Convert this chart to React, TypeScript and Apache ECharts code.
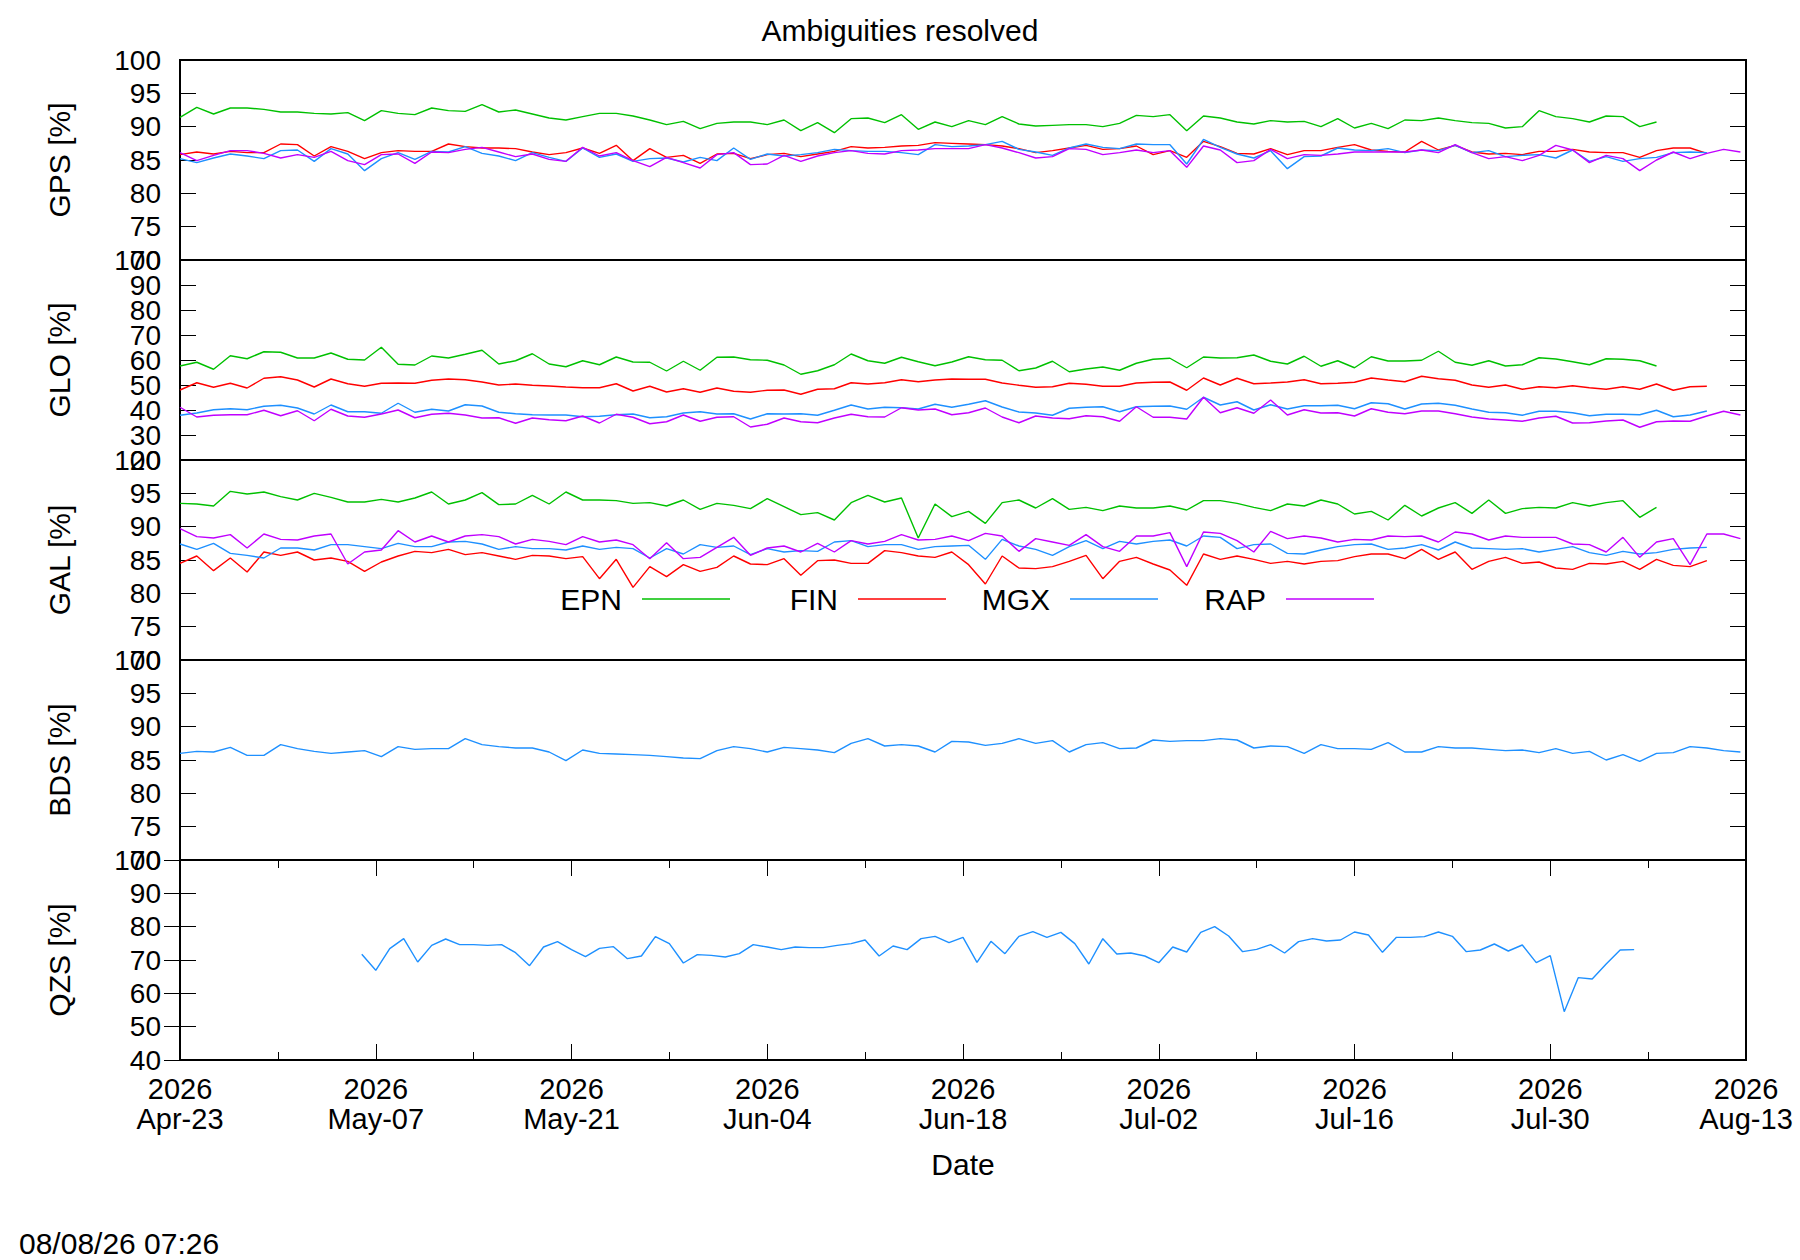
import React, { useEffect, useRef } from "react";
import * as echarts from "echarts";

// ---------- axis / sampling ----------
const START_UTC = Date.UTC(2026, 3, 23); // 2026 Apr-23
const X_MAX_DAYS = 112; // 2026 Aug-13
const X_TICK_DAYS = 14;
const SAMPLE_STEP_DAYS = 1.2; // spacing of the solution points (EPN/FIN/MGX/RAP)
const QZS_FIRST_DAY = 13; // QZS starts 2026 May-06, daily
const MONTHS = ["Jan", "Feb", "Mar", "Apr", "May", "Jun", "Jul", "Aug", "Sep", "Oct", "Nov", "Dec"];

const TITLE = "Ambiguities resolved";
const X_NAME = "Date";
const TIMESTAMP = "08/08/26 07:26";
const SERIES_NAMES = ["EPN", "FIN", "MGX", "RAP"];
const SERIES_COLORS = ["#00c000", "#ff0000", "#1e90ff", "#c000ff"];

// ---------- GPS ----------
const GPS_EPN = [
  91.4, 92.9, 91.9, 92.8, 92.8, 92.6, 92.2, 92.2, 92.0, 91.9,
  92.1, 90.9, 92.4, 92.0, 91.8, 92.8, 92.4, 92.3, 93.3, 92.2,
  92.5, 91.9, 91.3, 91.0, 91.5, 92.0, 92.0, 91.6, 91.0, 90.3,
  90.8, 89.7, 90.5, 90.7, 90.7, 90.3, 91.0, 89.4, 90.6, 89.1,
  91.2, 91.3, 90.6, 91.8, 89.6, 90.7, 90.0, 90.9, 90.3, 91.5,
  90.4, 90.1, 90.2, 90.3, 90.3, 90.0, 90.5, 91.7, 91.5, 91.8,
  89.4, 91.6, 91.3, 90.7, 90.4, 90.9, 90.7, 90.8, 90.0, 91.2,
  89.8, 90.5, 89.7, 91.0, 90.9, 91.3, 90.9, 90.6, 90.5, 89.8,
  90.0, 92.4, 91.5, 91.2, 90.7, 91.6, 91.5, 90.0, 90.7,
];
const GPS_FIN = [
  85.8, 86.2, 85.9, 86.3, 86.1, 86.1, 87.4, 87.3, 85.6, 87.0,
  86.3, 85.2, 86.1, 86.4, 86.3, 86.3, 87.4, 87.0, 86.8, 86.8,
  86.7, 86.2, 85.8, 86.1, 86.8, 86.0, 87.2, 84.9, 86.7, 85.4,
  85.7, 84.5, 85.9, 86.0, 85.2, 85.8, 86.0, 85.5, 85.9, 86.3,
  87.0, 86.8, 86.9, 87.1, 87.2, 87.6, 87.5, 87.4, 87.3, 87.1,
  86.7, 86.1, 86.4, 86.8, 87.2, 86.6, 86.7, 87.1, 85.8, 86.4,
  85.4, 87.8, 87.0, 86.0, 85.9, 86.7, 85.8, 86.4, 86.4, 86.9,
  87.3, 86.5, 86.3, 86.2, 87.8, 86.5, 87.2, 86.2, 85.9, 86.0,
  85.8, 86.3, 86.3, 86.6, 86.2, 86.1, 86.1, 85.4, 86.4, 86.8,
  86.8, 86.0,
];
const GPS_MGX = [
  85.2, 84.6, 85.3, 85.9, 85.6, 85.2, 86.4, 86.5, 84.8, 86.7,
  85.9, 83.4, 85.2, 86.1, 85.1, 86.3, 86.2, 87.0, 86.0, 85.6,
  84.9, 86.1, 85.4, 84.8, 86.8, 85.4, 85.9, 84.8, 85.2, 85.3,
  84.7, 85.4, 84.9, 86.8, 85.1, 85.9, 85.6, 85.8, 86.1, 86.6,
  86.4, 86.3, 86.3, 86.1, 85.8, 87.3, 87.0, 87.1, 87.3, 87.8,
  86.6, 86.2, 85.7, 86.8, 87.4, 86.9, 86.7, 87.4, 87.3, 87.3,
  84.4, 88.1, 86.9, 85.9, 85.3, 86.4, 83.7, 85.5, 85.6, 86.8,
  86.5, 86.4, 86.7, 86.1, 86.5, 86.4, 87.2, 86.1, 86.4, 85.5,
  85.7, 85.8, 85.3, 86.5, 84.8, 85.5, 84.8, 85.2, 85.4, 86.1,
  86.2, 86.1,
];
const GPS_RAP = [
  86.1, 84.9, 85.7, 86.4, 86.4, 86.0, 85.3, 85.8, 85.4, 86.3,
  84.9, 84.3, 85.8, 85.9, 84.5, 86.2, 86.1, 86.6, 86.9, 86.2,
  85.5, 85.9, 85.1, 84.8, 86.9, 85.6, 86.1, 84.9, 84.0, 85.4,
  84.6, 83.8, 85.8, 86.1, 84.3, 84.4, 85.7, 84.8, 85.6, 86.1,
  86.4, 86.0, 85.9, 86.4, 86.5, 86.7, 86.7, 86.7, 87.3, 86.8,
  86.1, 85.3, 85.5, 86.7, 86.6, 85.8, 86.1, 86.5, 86.1, 86.4,
  83.9, 87.1, 86.5, 84.6, 84.9, 86.6, 85.2, 85.8, 85.7, 85.9,
  86.2, 86.2, 86.2, 86.2, 86.5, 86.1, 87.3, 86.1, 85.2, 85.5,
  84.9, 85.7, 87.2, 86.5, 84.6, 85.7, 85.2, 83.4, 85.0, 86.2,
  85.2, 86.0, 86.6, 86.2,
];

// ---------- GLO ----------
const GLO_EPN = [
  57.6, 59.1, 56.3, 61.7, 60.5, 63.3, 63.1, 60.8, 60.8, 62.8,
  60.3, 60.0, 65.1, 58.3, 58.0, 61.6, 60.8, 62.3, 63.9, 58.4,
  59.7, 62.5, 58.4, 57.3, 59.7, 58.1, 61.2, 59.2, 59.1, 55.6,
  59.5, 55.9, 61.1, 61.2, 60.1, 59.9, 58.0, 54.3, 55.7, 58.1,
  62.4, 59.7, 58.7, 61.1, 59.3, 57.7, 59.2, 61.3, 60.1, 59.9,
  55.7, 56.8, 59.5, 55.3, 56.4, 57.2, 55.9, 58.7, 60.3, 60.7,
  56.9, 61.2, 60.8, 60.9, 62.0, 59.5, 58.4, 61.5, 57.5, 59.7,
  56.9, 61.3, 59.6, 59.6, 59.9, 63.5, 59.1, 57.9, 59.7, 57.6,
  58.1, 60.9, 60.4, 59.3, 58.1, 60.5, 60.3, 59.7, 57.6,
];
const GLO_FIN = [
  48.0, 50.9, 49.1, 50.7, 48.8, 52.7, 53.3, 52.0, 49.2, 52.4,
  50.5, 49.5, 50.7, 50.8, 50.7, 51.9, 52.4, 52.1, 51.2, 50.0,
  50.4, 49.9, 49.6, 49.2, 48.9, 48.9, 50.5, 47.6, 49.5, 47.2,
  48.5, 47.1, 48.8, 47.5, 47.1, 47.9, 48.0, 46.3, 48.3, 48.5,
  50.9, 50.4, 50.9, 52.1, 51.3, 52.0, 52.4, 52.3, 52.3, 50.8,
  49.9, 49.1, 49.3, 50.7, 50.3, 49.5, 49.5, 50.8, 51.1, 51.2,
  47.9, 52.8, 50.0, 52.7, 50.5, 50.8, 51.2, 52.1, 50.5, 50.7,
  51.1, 52.8, 52.0, 51.3, 53.5, 52.5, 51.9, 50.0, 49.1, 50.0,
  48.3, 49.3, 48.9, 49.7, 48.9, 48.3, 49.3, 48.3, 50.4, 47.9,
  49.3, 49.5,
];
const GLO_MGX = [
  37.9, 38.8, 40.1, 40.5, 40.1, 41.5, 41.9, 40.8, 38.4, 42.0,
  39.3, 39.3, 38.7, 42.7, 39.1, 40.3, 39.6, 42.1, 41.6, 39.1,
  38.5, 38.1, 38.0, 38.0, 37.3, 37.5, 38.1, 38.4, 36.9, 37.3,
  38.8, 39.3, 38.4, 38.5, 36.4, 38.5, 38.4, 38.5, 37.9, 39.9,
  42.0, 40.4, 41.1, 40.9, 40.4, 42.3, 41.1, 42.3, 43.7, 41.2,
  39.2, 38.8, 37.9, 40.7, 41.1, 41.3, 39.3, 41.3, 41.5, 41.6,
  40.3, 45.1, 42.0, 43.3, 40.0, 42.1, 40.4, 41.7, 41.7, 41.9,
  40.5, 42.9, 42.5, 40.4, 42.4, 42.7, 41.9, 40.4, 39.1, 38.9,
  37.9, 39.5, 39.5, 38.9, 37.7, 38.3, 38.3, 38.1, 39.9, 37.3,
  38.0, 39.6,
];
const GLO_RAP = [
  41.1, 37.2, 37.9, 38.1, 38.1, 39.9, 37.7, 39.7, 35.7, 40.3,
  37.6, 37.1, 38.4, 40.0, 36.9, 38.3, 38.7, 38.0, 36.8, 36.9,
  34.7, 36.8, 36.1, 35.7, 37.6, 34.8, 38.3, 37.1, 34.5, 35.3,
  38.0, 35.5, 37.1, 37.3, 33.2, 34.3, 36.8, 35.3, 34.9, 36.8,
  38.3, 37.3, 37.2, 40.9, 40.0, 40.4, 38.1, 38.9, 40.8, 37.2,
  34.9, 37.6, 36.8, 36.5, 37.7, 37.3, 35.5, 41.3, 37.1, 37.1,
  36.4, 45.1, 38.9, 40.9, 38.7, 44.0, 38.0, 40.1, 38.8, 38.9,
  37.6, 40.5, 39.1, 38.5, 39.6, 39.6, 38.5, 37.2, 36.4, 36.0,
  35.5, 36.8, 37.5, 34.8, 34.9, 35.6, 36.0, 33.1, 35.3, 35.6,
  35.5, 37.6, 39.5, 38.0,
];

// ---------- GAL ----------
const GAL_EPN = [
  93.5, 93.4, 93.1, 95.3, 94.9, 95.2, 94.5, 94.0, 95.0, 94.4,
  93.7, 93.7, 94.1, 93.7, 94.3, 95.2, 93.4, 94.0, 95.1, 93.3,
  93.4, 94.7, 93.4, 95.2, 94.0, 94.0, 93.9, 93.5, 93.6, 93.1,
  94.0, 92.6, 93.5, 93.2, 92.7, 94.2, 93.0, 91.8, 92.1, 91.0,
  93.6, 94.7, 93.7, 94.3, 88.3, 93.4, 91.5, 92.3, 90.5, 93.6,
  94.0, 92.8, 94.2, 92.6, 92.9, 92.4, 93.1, 92.8, 92.8, 93.1,
  92.5, 93.9, 93.9, 93.5, 92.9, 92.4, 93.4, 93.1, 94.0, 93.4,
  91.9, 92.3, 91.0, 93.2, 91.6, 92.8, 93.6, 92.0, 94.0, 92.0,
  92.7, 92.9, 92.8, 93.6, 93.1, 93.6, 93.9, 91.4, 92.9,
];
const GAL_FIN = [
  84.5, 85.6, 83.4, 85.3, 83.2, 86.2, 85.7, 86.2, 85.0, 85.3,
  84.8, 83.3, 84.7, 85.6, 86.3, 86.1, 86.6, 85.8, 86.1, 85.6,
  85.1, 85.7, 85.6, 85.2, 85.5, 82.2, 85.1, 80.9, 84.0, 82.5,
  84.3, 83.3, 83.9, 85.6, 84.4, 84.3, 85.2, 82.7, 84.9, 85.0,
  84.5, 84.5, 86.4, 86.1, 85.6, 85.4, 86.2, 84.3, 81.4, 85.6,
  83.8, 83.7, 84.0, 84.8, 85.7, 82.2, 84.8, 85.4, 84.4, 83.5,
  81.2, 85.9, 85.1, 85.6, 85.1, 84.5, 84.8, 84.4, 84.8, 84.9,
  85.5, 85.9, 85.9, 85.2, 86.6, 85.1, 86.2, 83.6, 84.8, 85.4,
  84.5, 84.7, 83.8, 83.6, 84.5, 84.4, 84.8, 83.6, 85.1, 84.2,
  84.0, 84.9,
];
const GAL_MGX = [
  87.4, 86.6, 87.5, 86.0, 85.7, 85.3, 86.8, 86.8, 86.5, 87.3,
  87.3, 87.0, 86.7, 87.5, 87.0, 87.0, 87.7, 87.8, 87.4, 86.6,
  87.0, 86.7, 86.7, 86.5, 87.1, 86.6, 86.9, 86.7, 85.3, 86.7,
  85.9, 87.3, 86.9, 87.1, 85.8, 86.7, 86.2, 86.4, 86.3, 87.7,
  87.9, 87.0, 87.3, 87.3, 86.6, 87.0, 87.1, 87.2, 85.1, 88.1,
  87.1, 86.6, 85.7, 87.0, 87.9, 86.7, 87.8, 87.4, 87.8, 88.0,
  87.1, 88.6, 88.4, 86.7, 87.3, 87.4, 86.0, 85.9, 86.5, 87.0,
  87.3, 87.4, 86.6, 86.8, 87.3, 86.5, 87.7, 86.8, 86.7, 86.6,
  86.7, 86.2, 86.6, 87.0, 86.1, 85.7, 86.3, 85.9, 86.1, 86.6,
  86.8, 86.9,
];
const GAL_RAP = [
  89.7, 88.5, 88.3, 88.8, 86.8, 88.9, 88.1, 88.0, 88.6, 88.9,
  84.4, 86.2, 86.5, 89.4, 87.7, 88.6, 87.7, 88.6, 88.8, 88.5,
  87.4, 88.1, 87.8, 87.3, 88.5, 87.7, 88.0, 87.3, 85.2, 87.6,
  85.2, 85.4, 86.9, 88.4, 85.7, 86.8, 87.1, 86.2, 87.5, 86.2,
  87.9, 87.4, 87.8, 88.8, 88.0, 88.1, 88.6, 87.9, 89.0, 88.6,
  86.3, 88.2, 87.7, 87.2, 88.8, 87.0, 86.3, 88.6, 88.6, 89.1,
  84.0, 89.2, 89.0, 87.9, 86.2, 89.3, 88.2, 88.6, 88.3, 87.7,
  88.1, 88.0, 88.6, 88.5, 88.6, 87.7, 89.2, 88.9, 88.0, 88.6,
  88.4, 88.4, 88.4, 87.4, 87.3, 86.2, 88.4, 85.4, 87.7, 88.2,
  84.3, 88.9, 88.9, 88.2,
];

// ---------- BDS (MGX) ----------
const BDS_MGX = [
  86.0, 86.3, 86.2, 86.9, 85.7, 85.7, 87.3, 86.7, 86.3, 86.0,
  86.2, 86.4, 85.5, 87.0, 86.6, 86.7, 86.7, 88.2, 87.3, 87.0,
  86.8, 86.8, 86.2, 84.9, 86.5, 86.0, 85.9, 85.8, 85.7, 85.5,
  85.3, 85.2, 86.4, 87.0, 86.7, 86.2, 86.9, 86.7, 86.5, 86.1,
  87.5, 88.2, 87.1, 87.3, 87.1, 86.2, 87.8, 87.7, 87.2, 87.5,
  88.2, 87.5, 87.9, 86.2, 87.3, 87.6, 86.7, 86.8, 88.0, 87.8,
  87.9, 87.9, 88.2, 88.0, 86.8, 87.1, 87.0, 86.0, 87.3, 86.7,
  86.7, 86.6, 87.6, 86.2, 86.2, 87.0, 86.8, 86.8, 86.6, 86.4,
  86.5, 86.1, 86.7, 86.0, 86.3, 85.0, 85.8, 84.8, 86.0, 86.1,
  87.0, 86.8, 86.4, 86.2,
];

// ---------- QZS (MGX), daily from May-06 ----------
const QZS_MGX = [
  71.7, 66.9, 73.4, 76.4, 69.4, 74.4, 76.3, 74.6, 74.6, 74.4,
  74.6, 72.2, 68.3, 73.9, 75.5, 73.1, 71.0, 73.5, 74.0, 70.4,
  71.2, 77.0, 74.9, 69.1, 71.6, 71.4, 70.9, 71.9, 74.6, 73.9,
  73.1, 73.9, 73.7, 73.7, 74.4, 74.9, 76.0, 71.2, 74.2, 73.1,
  76.4, 77.1, 75.2, 76.8, 69.3, 75.6, 71.9, 77.1, 78.5, 76.8,
  78.3, 74.9, 68.8, 76.4, 71.8, 72.1, 71.2, 69.2, 73.9, 72.4,
  78.3, 80.0, 77.2, 72.5, 73.2, 74.6, 72.1, 75.5, 76.4, 75.7,
  76.0, 78.4, 77.5, 72.3, 76.8, 76.8, 77.0, 78.4, 77.1, 72.5,
  73.0, 74.8, 72.7, 74.5, 69.2, 71.3, 54.5, 64.7, 64.3, 68.8,
  73.0, 73.1,
];

// ---------- y axes ----------
const Y_NAMES = ["GPS [%]", "GLO [%]", "GAL [%]", "BDS [%]", "QZS [%]"];
const Y_MIN = [70, 20, 70, 70, 40];
const Y_MAX = [100, 100, 100, 100, 100];
const Y_STEP = [5, 10, 5, 5, 10];

const FONT = "'Liberation Sans', Arial, Helvetica, sans-serif";

function points(values: number[], firstDay: number, stepDays: number) {
  return values.map((v, i) => [firstDay + i * stepDays, v]);
}

function fmtDate(days: number) {
  const d = new Date(START_UTC + Math.round(days) * 86400000);
  const dd = String(d.getUTCDate()).padStart(2, "0");
  return d.getUTCFullYear() + "\n" + MONTHS[d.getUTCMonth()] + "-" + dd;
}

function buildOption() {
  const LEFT = 180;
  const WIDTH = 1566;
  const TOP0 = 60;
  const H = 200;

  const panelSeries: { name: string; values: number[]; first: number; step: number }[][] = [
    [GPS_EPN, GPS_FIN, GPS_MGX, GPS_RAP].map((v, k) => ({ name: SERIES_NAMES[k], values: v, first: 0, step: SAMPLE_STEP_DAYS })),
    [GLO_EPN, GLO_FIN, GLO_MGX, GLO_RAP].map((v, k) => ({ name: SERIES_NAMES[k], values: v, first: 0, step: SAMPLE_STEP_DAYS })),
    [GAL_EPN, GAL_FIN, GAL_MGX, GAL_RAP].map((v, k) => ({ name: SERIES_NAMES[k], values: v, first: 0, step: SAMPLE_STEP_DAYS })),
    [{ name: "MGX", values: BDS_MGX, first: 0, step: SAMPLE_STEP_DAYS }],
    [{ name: "MGX", values: QZS_MGX, first: QZS_FIRST_DAY, step: 1 }],
  ];

  const grids: any[] = [];
  const xAxes: any[] = [];
  const yAxes: any[] = [];
  const series: any[] = [];

  const tickStyle = { color: "#000", width: 1 };
  const labelBase = { fontSize: 28, color: "#000", fontFamily: FONT, margin: 19 };

  for (let p = 0; p < 5; p++) {
    grids.push({
      left: LEFT,
      width: WIDTH,
      top: TOP0 + p * H,
      height: H,
      show: true,
      borderColor: "#000",
      borderWidth: 2,
      backgroundColor: "transparent",
      containLabel: false,
    });
    const isBottom = p === 4;
    xAxes.push({
      type: "value",
      gridIndex: p,
      min: 0,
      max: X_MAX_DAYS,
      interval: X_TICK_DAYS,
      show: isBottom,
      position: "bottom",
      axisLine: { show: false },
      splitLine: { show: false },
      axisTick: { show: isBottom, inside: true, length: 16, lineStyle: tickStyle },
      minorTick: { show: isBottom, splitNumber: 2, length: 8, lineStyle: tickStyle },
      minorSplitLine: { show: false },
      axisLabel: {
        show: isBottom,
        formatter: (v: number) => fmtDate(v),
        fontSize: 29,
        lineHeight: 30,
        color: "#000",
        fontFamily: FONT,
        margin: 14,
        showMinLabel: true,
        showMaxLabel: true,
      },
      name: isBottom ? X_NAME : "",
      nameLocation: "middle",
      nameGap: 89,
      nameTextStyle: { fontSize: 30, color: "#000", fontFamily: FONT },
    });
    // GLO labels are closer together than their height: its min/max labels go on a separate axis
    const dense = p === 1;
    yAxes.push({
      type: "value",
      gridIndex: p,
      min: Y_MIN[p],
      max: Y_MAX[p],
      interval: Y_STEP[p],
      position: "left",
      axisLine: { show: false },
      splitLine: { show: false },
      axisTick: { show: true, inside: true, length: 16, lineStyle: tickStyle },
      axisLabel: {
        ...labelBase,
        showMinLabel: !dense,
        showMaxLabel: !dense,
      },
      name: Y_NAMES[p],
      nameLocation: "middle",
      nameGap: 106,
      nameTextStyle: { fontSize: 30, color: "#000", fontFamily: FONT },
    });
  }
  // mirrored ticks: top x of QZS panel, right y of every panel
  xAxes.push({
    type: "value",
    gridIndex: 4,
    min: 0,
    max: X_MAX_DAYS,
    interval: X_TICK_DAYS,
    position: "top",
    axisLine: { show: false },
    splitLine: { show: false },
    axisTick: { show: true, inside: true, length: 16, lineStyle: tickStyle },
    minorTick: { show: true, splitNumber: 2, length: 8, lineStyle: tickStyle },
    axisLabel: { show: false },
  });
  for (let p = 0; p < 5; p++) {
    yAxes.push({
      type: "value",
      gridIndex: p,
      min: Y_MIN[p],
      max: Y_MAX[p],
      interval: Y_STEP[p],
      position: "right",
      axisLine: { show: false },
      splitLine: { show: false },
      axisTick: { show: true, inside: true, length: 16, lineStyle: tickStyle },
      axisLabel: { show: false },
    });
  }
  // GLO min/max labels (20, 100)
  yAxes.push({
    type: "value",
    gridIndex: 1,
    min: Y_MIN[1],
    max: Y_MAX[1],
    interval: Y_STEP[1],
    position: "left",
    offset: 0,
    axisLine: { show: false },
    splitLine: { show: false },
    axisTick: { show: false },
    axisLabel: {
      ...labelBase,
      showMinLabel: true,
      showMaxLabel: true,
      formatter: (v: number) => (v === Y_MIN[1] || v === Y_MAX[1] ? String(v) : ""),
    },
  });

  panelSeries.forEach((list, p) => {
    list.forEach((s) => {
      const color = SERIES_COLORS[SERIES_NAMES.indexOf(s.name)];
      series.push({
        type: "line",
        name: s.name,
        xAxisIndex: p,
        yAxisIndex: p,
        data: points(s.values, s.first, s.step),
        showSymbol: false,
        symbol: "none",
        color,
        lineStyle: { color, width: 1.4 },
        itemStyle: { color },
        emphasis: { disabled: true },
        z: 3,
      });
    });
  });

  const legendRightEdges = [730, 946, 1158, 1374];
  const legends = SERIES_NAMES.map((n, k) => ({
    data: [n],
    right: 1800 - legendRightEdges[k],
    top: 583,
    orient: "horizontal",
    align: "right",
    icon: "rect",
    itemWidth: 88,
    itemHeight: 1.6,
    padding: 0,
    selectedMode: false,
    textStyle: { fontSize: 30, color: "#000", fontFamily: FONT, padding: [0, 15, 0, 0], lineHeight: 32 },
  }));

  return {
    animation: false,
    backgroundColor: "#ffffff",
    title: {
      text: TITLE,
      left: "center",
      top: 10,
      textStyle: { fontSize: 30, fontWeight: "normal", color: "#000", fontFamily: FONT },
    },
    legend: legends,
    grid: grids,
    xAxis: xAxes,
    yAxis: yAxes,
    series,
    graphic: [
      {
        type: "text",
        left: 19,
        top: 1228,
        style: { text: TIMESTAMP, fontSize: 30, fill: "#000", fontFamily: FONT },
      },
    ],
  };
}

export default function App() {
  const ref = useRef<HTMLDivElement>(null);
  useEffect(() => {
    document.body.style.margin = "0";
    if (!ref.current) return;
    const chart = echarts.init(ref.current, undefined, { renderer: "svg" });
    chart.setOption(buildOption() as any);
    return () => chart.dispose();
  }, []);
  return <div ref={ref} style={{ width: 1800, height: 1260, background: "#fff" }} />;
}
